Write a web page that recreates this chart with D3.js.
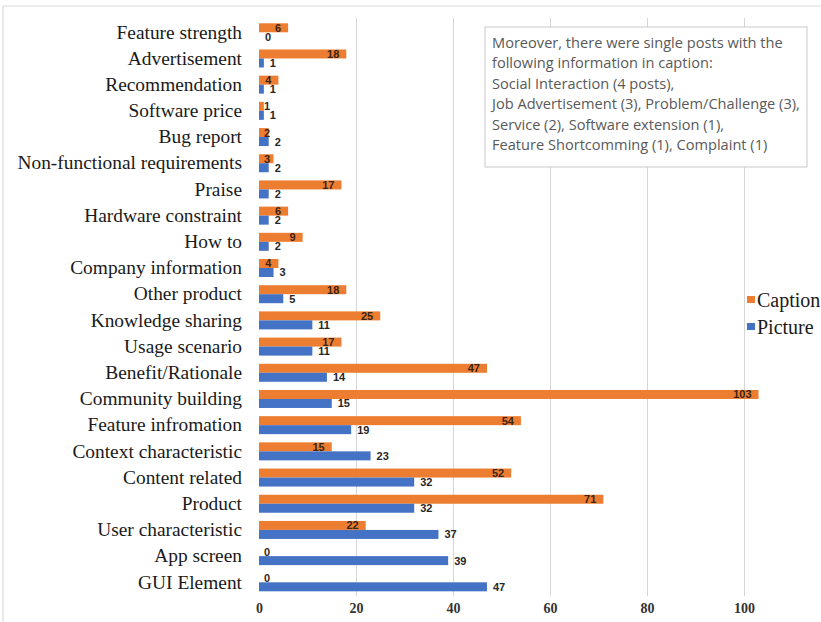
<!DOCTYPE html>
<html>
<head>
<meta charset="utf-8">
<script src="https://cdn.jsdelivr.net/npm/d3@7/dist/d3.min.js"></script>
<style>
  html, body { margin: 0; padding: 0; background: #fff; }
  svg { display: block; }
</style>
</head>
<body>
<div id="chart"></div>
<script>
// Categories, listed top to bottom
const categories = [
  "Feature strength", "Advertisement", "Recommendation", "Software price",
  "Bug report", "Non-functional requirements", "Praise", "Hardware constraint",
  "How to", "Company information", "Other product", "Knowledge sharing",
  "Usage scenario", "Benefit/Rationale", "Community building", "Feature infromation",
  "Context characteristic", "Content related", "Product", "User characteristic",
  "App screen", "GUI Element"
];

// Number of posts per category
const captionValues = [6, 18, 4, 1, 2, 3, 17, 6, 9, 4, 18, 25, 17, 47, 103, 54, 15, 52, 71, 22, 0, 0];
const pictureValues = [0, 1, 1, 1, 2, 2, 2, 2, 2, 3, 5, 11, 11, 14, 15, 19, 23, 32, 32, 37, 39, 47];

const seriesNames = ["Caption", "Picture"];
const seriesColors = ["#ED7D31", "#4472C4"];

const xDomain = [0, 120];
const tickValues = [0, 20, 40, 60, 80, 100];

const noteLines = [
  "Moreover, there were single posts with the",
  "following information in caption:",
  "Social Interaction (4 posts),",
  "Job Advertisement (3), Problem/Challenge (3),",
  "Service (2), Software extension (1),",
  "Feature Shortcomming (1), Complaint (1)"
];

const W = 821, H = 622;
const plot = { left: 259, top: 19.2, bottom: 595.4 };
const serif = "'Liberation Serif', 'Times New Roman', serif";

const svg = d3.select("#chart").append("svg")
  .attr("width", W).attr("height", H);

// outer frame edges
svg.append("line").attr("x1", 3).attr("x2", W).attr("y1", 6).attr("y2", 6)
  .attr("stroke", "#d9d9d9").attr("stroke-width", 1.2);
svg.append("line").attr("x1", 3).attr("x2", 3).attr("y1", 6).attr("y2", H)
  .attr("stroke", "#d9d9d9").attr("stroke-width", 1.2);

const x = d3.scaleLinear().domain(xDomain).range([plot.left, plot.left + 120 * 4.85]);

const y = d3.scaleBand().domain(categories)
  .range([plot.top, plot.bottom])
  .paddingInner(0.313).paddingOuter(0.156);

const ySub = d3.scaleBand().domain(seriesNames).range([0, y.bandwidth()]);

// vertical gridlines
const grid = svg.append("g")
  .attr("transform", `translate(0,18)`)
  .call(d3.axisTop(x).tickValues(tickValues.slice(1)).tickSize(-(596 - 18)).tickFormat(""));
grid.select(".domain").remove();
grid.selectAll("line").attr("stroke", "#d6d6d6").attr("stroke-width", 1);

// x axis labels
const xAxis = svg.append("g")
  .attr("transform", `translate(0,600)`)
  .attr("font-family", serif)
  .call(d3.axisBottom(x).tickValues(tickValues).tickSize(0).tickPadding(0));
xAxis.attr("font-family", serif);
xAxis.select(".domain").remove();
xAxis.selectAll("text")
  .attr("dy", "0.95em")
  .style("font-family", serif)
  .style("font-weight", "bold")
  .style("font-size", "14px")
  .attr("fill", "#333");

// y axis category labels
const yAxis = svg.append("g")
  .attr("transform", `translate(${plot.left},0)`)
  .call(d3.axisLeft(y).tickSize(0).tickPadding(17));
yAxis.select(".domain").remove();
yAxis.selectAll("text")
  .style("font-family", serif)
  .style("font-size", "19.4px")
  .attr("fill", "#1a1a1a");

// bars
const rows = categories.map((c, i) => ({
  category: c,
  values: [
    { series: "Caption", value: captionValues[i], color: seriesColors[0] },
    { series: "Picture", value: pictureValues[i], color: seriesColors[1] }
  ]
}));

const groups = svg.append("g").selectAll("g")
  .data(rows).join("g")
  .attr("transform", d => `translate(0,${y(d.category)})`);

groups.selectAll("rect")
  .data(d => d.values).join("rect")
  .attr("x", x(0))
  .attr("y", d => ySub(d.series))
  .attr("height", ySub.bandwidth())
  .attr("width", d => x(d.value) - x(0))
  .attr("fill", d => d.color);

// value labels: inside end for Caption, outside end for Picture
groups.selectAll("text.val")
  .data(d => d.values).join("text")
  .attr("class", "val")
  .attr("y", d => ySub(d.series) + ySub.bandwidth() / 2)
  .attr("dy", "0.36em")
  .style("font-family", "'Liberation Sans', Arial, sans-serif")
  .style("font-weight", "bold")
  .style("font-size", "11px")
  .attr("fill", d => d.series === "Caption" ? "#3b2414" : "#262626")
  .text(d => d.value)
  .each(function (d) {
    const t = d3.select(this);
    if (d.series === "Picture") {
      t.attr("x", x(d.value) + 6).attr("text-anchor", "start");
    } else {
      const w = this.getComputedTextLength();
      const right = x(d.value) - 7;
      const left = Math.max(right - w, x(0) + 5);
      t.attr("x", left).attr("text-anchor", "start");
    }
  });

// note box
const note = svg.append("g");
note.append("rect")
  .attr("x", 485).attr("y", 27).attr("width", 322).attr("height", 140)
  .attr("fill", "#fff").attr("stroke", "#c9c9c9").attr("stroke-width", 1);
note.selectAll("text")
  .data(noteLines).join("text")
  .attr("x", 492)
  .attr("y", (d, i) => 48 + i * 20.4)
  .style("font-family", "'Open Sans', 'Noto Sans', sans-serif")
  .style("font-size", "14.6px")
  .attr("fill", "#595959")
  .text(d => d);

// legend
const legend = svg.append("g").selectAll("g")
  .data(seriesNames).join("g")
  .attr("transform", (d, i) => `translate(747,${296 + i * 27})`);
legend.append("rect")
  .attr("width", 8).attr("height", 7)
  .attr("fill", (d, i) => seriesColors[i]);
legend.append("text")
  .attr("x", 10).attr("y", 11)
  .style("font-family", serif)
  .style("font-size", "20px")
  .attr("fill", "#1a1a1a")
  .text(d => d);
</script>
</body>
</html>
